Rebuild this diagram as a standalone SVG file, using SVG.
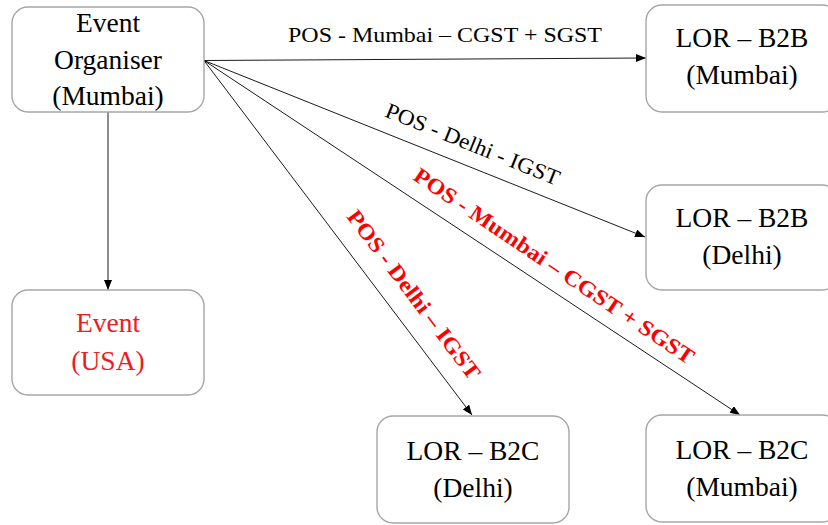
<svg xmlns="http://www.w3.org/2000/svg" width="828" height="525" viewBox="0 0 828 525">
  <style>
    .box { fill: #ffffff; stroke: #a6a6a6; stroke-width: 1.4; }
    .nt { font-family: "Liberation Serif", "DejaVu Serif", serif; font-size: 27.5px; fill: #000000; text-anchor: middle; }
    .red { fill: #ed1c24; }
    .edge { stroke: #000000; stroke-width: 0.9; fill: none; marker-end: url(#arrow); }
    .lbl { font-family: "Liberation Serif", "DejaVu Serif", serif; font-size: 22px; fill: #000000; text-anchor: middle; }
    .lblr { font-family: "Liberation Serif", "DejaVu Serif", serif; font-size: 22px; font-weight: bold; fill: #ff0000; text-anchor: middle; }
  </style>
  <defs>
    <marker id="arrow" markerUnits="userSpaceOnUse" markerWidth="11" markerHeight="9" refX="10" refY="4" orient="auto">
      <path d="M0,0 L10,4 L0,8 z" fill="#000000"/>
    </marker>
  </defs>
  <rect width="828" height="525" fill="#ffffff"/>

  <g id="connectors">
    <line class="edge" x1="204" y1="60.5" x2="646" y2="58"/>
    <line class="edge" x1="204" y1="60.5" x2="645" y2="237"/>
    <line class="edge" x1="204" y1="60.5" x2="740" y2="415"/>
    <line class="edge" x1="204" y1="60.5" x2="472" y2="415"/>
    <line class="edge" x1="108" y1="112" x2="108" y2="290"/>
    <text class="lbl" x="445" y="42" textLength="314" lengthAdjust="spacingAndGlyphs">POS - Mumbai – CGST + SGST</text>
    <text class="lbl" transform="translate(470,151) rotate(22)" x="0" y="0" textLength="186" lengthAdjust="spacingAndGlyphs">POS - Delhi - IGST</text>
    <text class="lblr" transform="translate(550,272) rotate(34)" x="0" y="0" textLength="333" lengthAdjust="spacingAndGlyphs">POS - Mumbai – CGST + SGST</text>
    <text class="lblr" transform="translate(408,299) rotate(53)" x="0" y="0" textLength="206" lengthAdjust="spacingAndGlyphs">POS - Delhi – IGST</text>
  </g>

  <g id="event-organiser">
    <rect class="box" x="12" y="7" width="192" height="105" rx="16"/>
    <text class="nt" x="108" y="32">Event</text>
    <text class="nt" x="108" y="69">Organiser</text>
    <text class="nt" x="108" y="105">(Mumbai)</text>
  </g>

  <g id="event-usa">
    <rect class="box" x="12" y="290" width="192" height="105" rx="16"/>
    <text class="nt red" x="108" y="332">Event</text>
    <text class="nt red" x="108" y="370">(USA)</text>
  </g>

  <g id="lor-b2b-mumbai">
    <rect class="box" x="646" y="5" width="192" height="107" rx="16"/>
    <text class="nt" x="742" y="47">LOR – B2B</text>
    <text class="nt" x="742" y="84">(Mumbai)</text>
  </g>

  <g id="lor-b2b-delhi">
    <rect class="box" x="646" y="185" width="192" height="105" rx="16"/>
    <text class="nt" x="742" y="227">LOR – B2B</text>
    <text class="nt" x="742" y="264">(Delhi)</text>
  </g>

  <g id="lor-b2c-delhi">
    <rect class="box" x="377" y="416" width="192" height="107" rx="16"/>
    <text class="nt" x="473" y="460">LOR – B2C</text>
    <text class="nt" x="473" y="497">(Delhi)</text>
  </g>

  <g id="lor-b2c-mumbai">
    <rect class="box" x="646" y="415" width="192" height="107" rx="16"/>
    <text class="nt" x="742" y="459">LOR – B2C</text>
    <text class="nt" x="742" y="496">(Mumbai)</text>
  </g>
</svg>
